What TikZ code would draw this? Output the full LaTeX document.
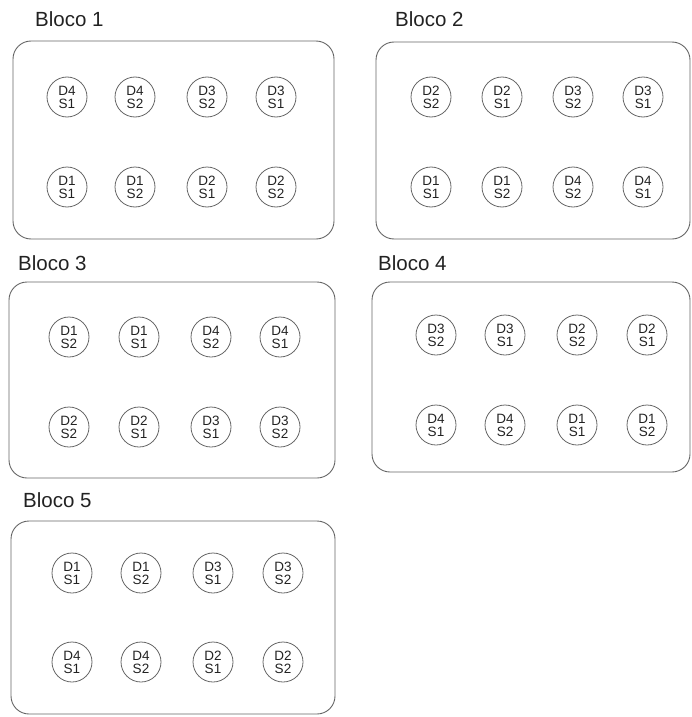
\documentclass[tikz,border=0pt]{standalone}
\usepackage{fontspec}
\setmainfont{Liberation Sans}
\definecolor{linegray}{HTML}{666666}
\definecolor{txtgray}{HTML}{222222}
\begin{document}
\begin{tikzpicture}[x=1pt,y=-1pt,
  blockbox/.style={draw=linegray, line width=0.9pt, rounded corners=18pt},
  blocktitle/.style={anchor=west, inner sep=0pt, text=txtgray, font=\fontsize{20.5}{20.5}\selectfont},
  plot/.style={circle, draw=linegray, line width=0.8pt, minimum size=40pt, inner sep=0pt, align=center, text=txtgray, font=\fontsize{13.5}{13}\selectfont}]
\useasboundingbox (0,0) rectangle (691,717);
% Bloco 1
\node[blocktitle] (t1) at (35,19) {Bloco 1};
\draw[blockbox] (13,41) rectangle (334,239);
\foreach \x/\d/\s [count=\i] in {67/4/1,135/4/2,207/3/2,276/3/1}
  \node[plot] (b1a\i) at (\x,97) {D\d\\S\s};
\foreach \x/\d/\s [count=\i] in {67/1/1,135/1/2,207/2/1,276/2/2}
  \node[plot] (b1b\i) at (\x,187) {D\d\\S\s};
% Bloco 2
\node[blocktitle] (t2) at (395,19) {Bloco 2};
\draw[blockbox] (376,42) rectangle (690,239);
\foreach \x/\d/\s [count=\i] in {431/2/2,502/2/1,573/3/2,643/3/1}
  \node[plot] (b2a\i) at (\x,97) {D\d\\S\s};
\foreach \x/\d/\s [count=\i] in {431/1/1,502/1/2,573/4/2,643/4/1}
  \node[plot] (b2b\i) at (\x,187) {D\d\\S\s};
% Bloco 3
\node[blocktitle] (t3) at (18,263) {Bloco 3};
\draw[blockbox] (9,282) rectangle (335,478);
\foreach \x/\d/\s [count=\i] in {69/1/2,139/1/1,211/4/2,280/4/1}
  \node[plot] (b3a\i) at (\x,337) {D\d\\S\s};
\foreach \x/\d/\s [count=\i] in {69/2/2,139/2/1,211/3/1,280/3/2}
  \node[plot] (b3b\i) at (\x,427) {D\d\\S\s};
% Bloco 4
\node[blocktitle] (t4) at (378,263) {Bloco 4};
\draw[blockbox] (372,282) rectangle (690,472);
\foreach \x/\d/\s [count=\i] in {436/3/2,505/3/1,577/2/2,647/2/1}
  \node[plot] (b4a\i) at (\x,335) {D\d\\S\s};
\foreach \x/\d/\s [count=\i] in {436/4/1,505/4/2,577/1/1,647/1/2}
  \node[plot] (b4b\i) at (\x,425) {D\d\\S\s};
% Bloco 5
\node[blocktitle] (t5) at (23,500) {Bloco 5};
\draw[blockbox] (11,521) rectangle (335,714);
\foreach \x/\d/\s [count=\i] in {72/1/1,141/1/2,213/3/1,283/3/2}
  \node[plot] (b5a\i) at (\x,573) {D\d\\S\s};
\foreach \x/\d/\s [count=\i] in {72/4/1,141/4/2,213/2/1,283/2/2}
  \node[plot] (b5b\i) at (\x,662) {D\d\\S\s};
\end{tikzpicture}
\end{document}
